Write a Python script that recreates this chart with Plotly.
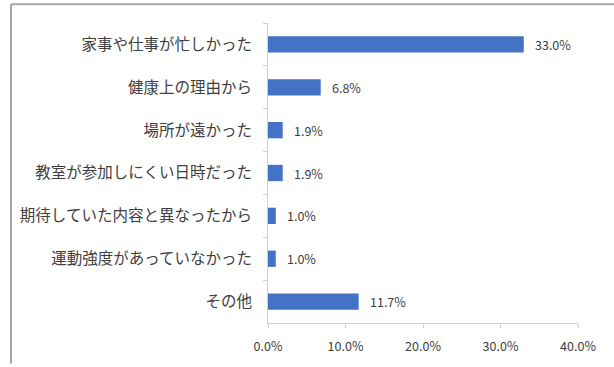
import plotly.graph_objects as go

categories = [
    "家事や仕事が忙しかった",
    "健康上の理由から",
    "場所が遠かった",
    "教室が参加しにくい日時だった",
    "期待していた内容と異なったから",
    "運動強度があっていなかった",
    "その他",
]
values = [33.0, 6.8, 1.9, 1.9, 1.0, 1.0, 11.7]
tick_vals = [0, 10, 20, 30, 40]
tick_text = ["0.0%", "10.0%", "20.0%", "30.0%", "40.0%"]

W, H = 614, 367
ML, MR, MT, MB = 268, 36, 23, 41
TEXT = "#404040"
FONT = "Noto Sans CJK JP"

fig = go.Figure(
    go.Bar(
        x=values,
        y=categories,
        orientation="h",
        width=0.38,
        marker=dict(color="#4472C4", line=dict(width=0)),
        hoverinfo="x+y",
    )
)

# value labels just past the end of each bar
for cat, v in zip(categories, values):
    fig.add_annotation(
        x=v, y=cat, text=f"{v:.1f}%", showarrow=False,
        xanchor="left", xshift=9,
        font=dict(family=FONT, size=12.5, color=TEXT),
    )

# outer frame of the chart (left and top edges), converted from pixels to paper coords
pw, ph = W - ML - MR, H - MT - MB
def px(xp):
    return (xp - ML) / pw
def py(yp):
    return 1 - (yp - MT) / ph

frame = "#a6a6a6"
fig.add_shape(type="line", xref="paper", yref="paper",
              x0=px(11), x1=px(11), y0=py(4), y1=py(367),
              line=dict(color=frame, width=2))
fig.add_shape(type="line", xref="paper", yref="paper",
              x0=px(11), x1=px(614), y0=py(4), y1=py(4),
              line=dict(color=frame, width=2))

fig.update_layout(
    width=W,
    height=H,
    margin=dict(l=ML, r=MR, t=MT, b=MB),
    paper_bgcolor="white",
    plot_bgcolor="white",
    showlegend=False,
    font=dict(family=FONT, color=TEXT),
    xaxis=dict(
        range=[0, 40],
        tickvals=tick_vals,
        ticktext=tick_text,
        showgrid=False,
        zeroline=False,
        showline=True,
        linecolor="#d0d0d0",
        linewidth=1,
        ticks="outside",
        ticklen=4,
        tickcolor="#d0d0d0",
        ticklabelstandoff=8,
        tickfont=dict(size=12.5, color=TEXT),
        fixedrange=True,
    ),
    yaxis=dict(
        autorange="reversed",
        showgrid=False,
        showline=True,
        linecolor="#d0d0d0",
        linewidth=1,
        ticks="outside",
        tickson="boundaries",
        ticklen=4,
        tickcolor="#d0d0d0",
        ticklabelstandoff=12,
        tickfont=dict(size=15.5, color=TEXT),
        fixedrange=True,
    ),
)

fig.write_html("out.html")
